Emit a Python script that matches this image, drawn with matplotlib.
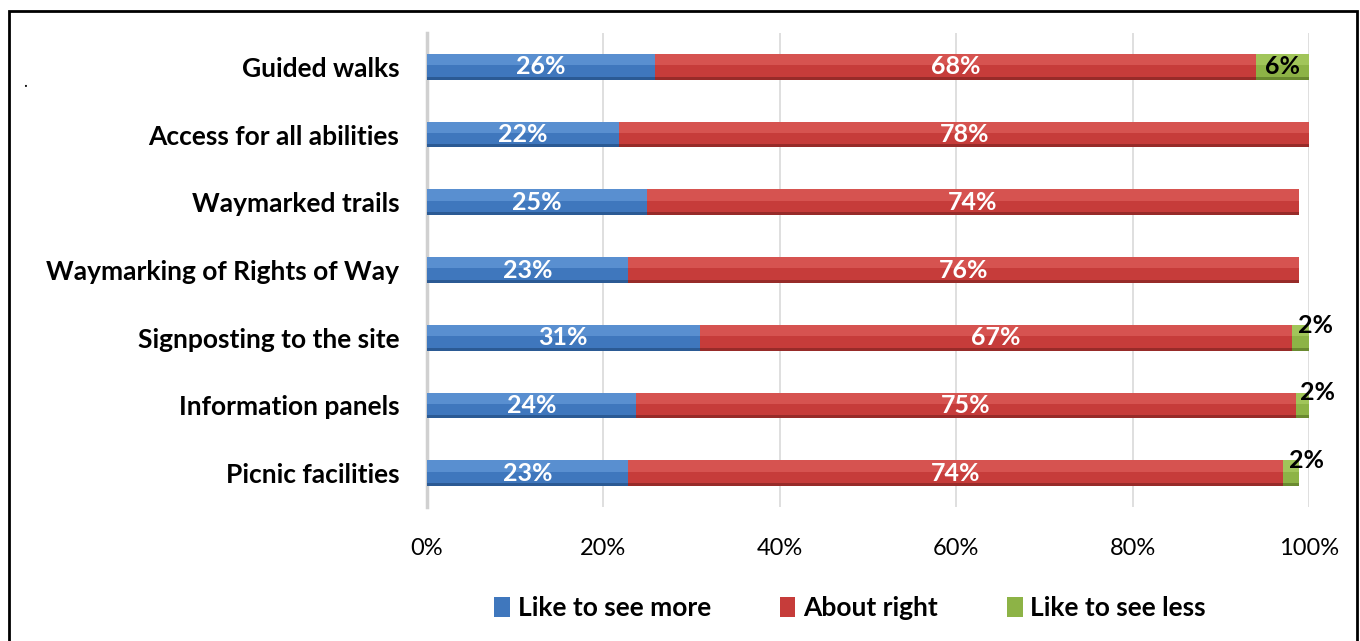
import matplotlib
matplotlib.use("Agg")
import matplotlib.pyplot as plt
from matplotlib.patches import Rectangle
import numpy as np

categories = ["Guided walks", "Access for all abilities", "Waymarked trails",
              "Waymarking of Rights of Way", "Signposting to the site",
              "Information panels", "Picnic facilities"]
more = [25.8, 21.8, 24.9, 22.8, 30.9, 23.7, 22.8]
right = [68.2, 78.2, 74.0, 76.1, 67.2, 74.8, 74.2]
less = [6.0, 0.0, 0.0, 0.0, 1.9, 1.5, 1.9]
series_names = ["Like to see more", "About right", "Like to see less"]

colors = ["#3f77bd", "#c63c3a", "#8db346"]
light = ["#6fa3e0", "#e46663", "#b3d46c"]
dark = ["#2b5a94", "#972b29", "#6a8a30"]

FONT = "Lato"
plt.rcParams['font.family'] = [FONT, 'DejaVu Sans']

fig = plt.figure(figsize=(13.6, 6.41), dpi=100)
ax = fig.add_axes([0.314, 0.209, 0.6485, 0.7395])

y = np.arange(len(categories))
h = 0.38
data = [np.array(more) / 100, np.array(right) / 100, np.array(less) / 100]
left = np.zeros(len(categories))
for i, vals in enumerate(data):
    ax.barh(y, vals, left=left, height=h, color=colors[i], edgecolor="none", zorder=3)
    ax.barh(y - h / 2 + h * 0.22, vals, left=left, height=h * 0.44,
            color=light[i], edgecolor="none", zorder=3.1, alpha=0.55)
    ax.barh(y + h / 2 - h * 0.06, vals, left=left, height=h * 0.12,
            color=dark[i], edgecolor="none", zorder=3.2)
    for j, v in enumerate(vals):
        if v <= 0:
            continue
        label = f"{round(v * 100):.0f}%"
        cx = left[j] + v / 2
        if i == 2 and v < 0.03:
            ax.annotate(label, (cx, y[j]), xytext=(11, 9), textcoords="offset points",
                        ha="center", va="center", fontsize=18, fontweight="bold",
                        color="black", zorder=5)
        else:
            ax.text(cx, y[j], label, ha="center", va="center", fontsize=18,
                    fontweight="bold", color="white" if i < 2 else "black", zorder=5)
    left = left + vals

ax.set_ylim(len(categories) - 0.5, -0.5)
ax.set_xlim(0, 1)
ax.set_yticks(y)
ax.set_yticklabels(categories, fontsize=19, fontweight="bold")
ax.set_xticks(np.linspace(0, 1, 6))
ax.set_xticklabels([f"{int(t)}%" for t in np.linspace(0, 100, 6)], fontsize=17)
ax.tick_params(axis="both", length=0)
ax.tick_params(axis="y", pad=20)
ax.tick_params(axis="x", pad=22)
ax.grid(axis="x", color="#d9d9d9", linewidth=1.2, zorder=0)
for s in ["top", "right", "bottom"]:
    ax.spines[s].set_visible(False)
ax.spines["left"].set_color("#d0d0d0")
ax.spines["left"].set_linewidth(2.5)

handles = [Rectangle((0, 0), 1, 1, facecolor=c, edgecolor="none") for c in colors]
leg = fig.legend(handles, series_names, loc="center", bbox_to_anchor=(0.625, 0.051),
                 ncol=3, frameon=False, prop={"family": FONT, "weight": "bold", "size": 19},
                 handlelength=0.6, handleheight=0.8, handletextpad=0.3, columnspacing=2.6)

fig.patches.append(Rectangle((9 / 1360, -0.01), 1348 / 1360, 1 - 11 / 641 + 0.01,
                             transform=fig.transFigure, fill=False, edgecolor="black",
                             linewidth=2, zorder=10))
fig.text(25 / 1360, 1 - 90 / 641, ".", fontsize=12, ha="center", va="bottom")

fig.savefig("out.png", dpi=100)
